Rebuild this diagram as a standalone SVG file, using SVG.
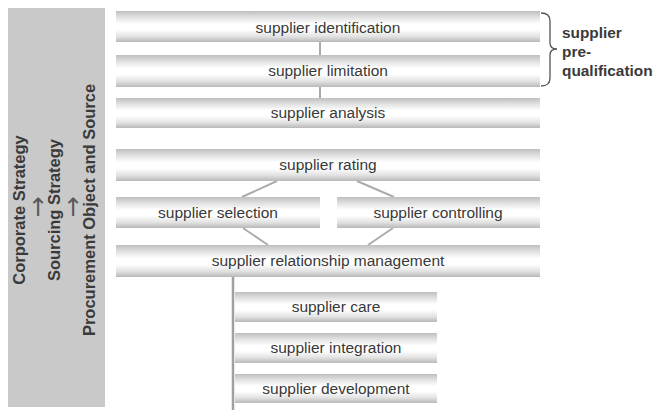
<svg xmlns="http://www.w3.org/2000/svg" width="656" height="411" viewBox="0 0 656 411">
<defs>
<linearGradient id="barg" x1="0" y1="0" x2="0" y2="1">
<stop offset="0" stop-color="#bfbfbf"/>
<stop offset="0.22" stop-color="#e4e4e4"/>
<stop offset="0.42" stop-color="#ffffff"/>
<stop offset="0.6" stop-color="#ffffff"/>
<stop offset="0.82" stop-color="#e2e2e2"/>
<stop offset="1" stop-color="#b8b8b8"/>
</linearGradient>
</defs>
<style>
.bar{fill:url(#barg);}
.t{font-family:"Liberation Sans",Arial,sans-serif;font-size:15.5px;fill:#383838;text-anchor:middle;}
.side{font-family:"Liberation Sans",Arial,sans-serif;font-size:16.5px;font-weight:bold;fill:#3a3a3a;text-anchor:middle;}
.arr{font-family:"DejaVu Sans",sans-serif;font-size:25px;fill:#5a5a5a;text-anchor:middle;}
.lbl{font-family:"Liberation Sans",Arial,sans-serif;font-size:15.4px;font-weight:bold;fill:#3a3a3a;}
.c{stroke:#ababab;stroke-width:2;fill:none;}
</style>
<rect width="656" height="411" fill="#ffffff"/>
<g id="strategy">
<rect x="8" y="8" width="97" height="399" fill="#c9c9c9"/>
<text class="side" transform="translate(25,210) rotate(-90)">Corporate Strategy</text>
<text class="arr" transform="translate(46,207) rotate(-90)">→</text>
<text class="side" transform="translate(60,210) rotate(-90)">Sourcing Strategy</text>
<text class="arr" transform="translate(81,207) rotate(-90)">→</text>
<text class="side" transform="translate(95,210) rotate(-90)">Procurement Object and Source</text>
</g>
<g id="connectors">
<line class="c" x1="320" y1="42" x2="320" y2="55"/>
<line class="c" x1="320" y1="87" x2="320" y2="98"/>
<line class="c" x1="277" y1="181" x2="242" y2="197"/>
<line class="c" x1="357" y1="181" x2="394" y2="197"/>
<line class="c" x1="243" y1="228" x2="268" y2="245"/>
<line class="c" x1="393" y1="228" x2="368" y2="245"/>
<line x1="233" y1="277" x2="233" y2="410" stroke="#a0a0a0" stroke-width="2.5"/>
</g>
<g id="identification"><rect class="bar" x="116" y="11" width="424" height="31"/><text class="t" x="328" y="33">supplier identification</text></g>
<g id="limitation"><rect class="bar" x="116" y="55" width="424" height="32"/><text class="t" x="328" y="76">supplier limitation</text></g>
<g id="analysis"><rect class="bar" x="116" y="98" width="424" height="30"/><text class="t" x="328" y="118">supplier analysis</text></g>
<g id="rating"><rect class="bar" x="116" y="149" width="424" height="32"/><text class="t" x="328" y="170">supplier rating</text></g>
<g id="selection"><rect class="bar" x="116" y="197" width="204" height="31"/><text class="t" x="218" y="218">supplier selection</text></g>
<g id="controlling"><rect class="bar" x="337" y="197" width="203" height="31"/><text class="t" x="438" y="218">supplier controlling</text></g>
<g id="relationship"><rect class="bar" x="116" y="245" width="424" height="32"/><text class="t" x="328" y="266">supplier relationship management</text></g>
<g id="care"><rect class="bar" x="235" y="292" width="202" height="30"/><text class="t" x="336" y="312">supplier care</text></g>
<g id="integration"><rect class="bar" x="235" y="333" width="202" height="30"/><text class="t" x="336" y="353">supplier integration</text></g>
<g id="development"><rect class="bar" x="235" y="374" width="202" height="29"/><text class="t" x="336" y="394">supplier development</text></g>
<g id="prequalification">
<path d="M541 13 Q550 13 550 21 L550 43 Q550 49 557 49 Q550 49 550 55 L550 78 Q550 86 541 86" fill="none" stroke="#555" stroke-width="1.3"/>
<text class="lbl" x="562" y="38">supplier</text>
<text class="lbl" x="562" y="57">pre-</text>
<text class="lbl" x="562" y="76">qualification</text>
</g>
</svg>
